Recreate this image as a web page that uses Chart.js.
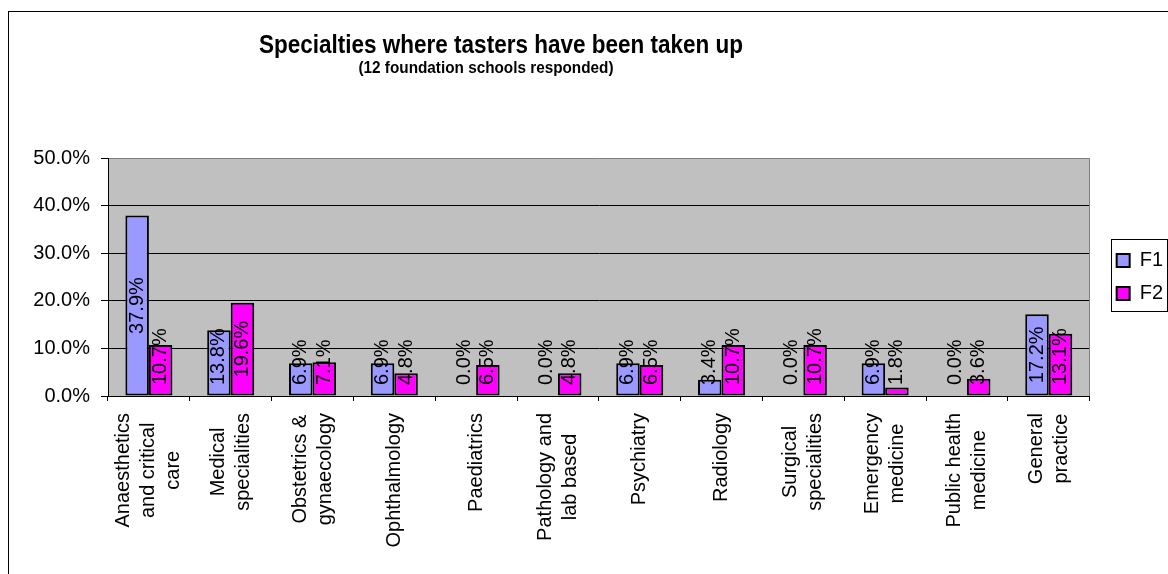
<!DOCTYPE html>
<html>
<head>
<meta charset="utf-8">
<title>Specialties where tasters have been taken up</title>
<script src="https://cdn.jsdelivr.net/npm/chart.js@4.4.0/dist/chart.umd.min.js"></script>
<style>
  html, body { margin: 0; padding: 0; background: #fff; overflow: hidden; }
  #wrap { width: 1168px; height: 574px; overflow: hidden; }
  canvas { display: block; }
</style>
</head>
<body>
<div id="wrap"><canvas id="myChart" width="1180" height="590"></canvas></div>
<script>
// specialties (each label split into its wrapped lines)
const specialties = [
  ["Anaesthetics", "and critical", "care"],
  ["Medical", "specialities"],
  ["Obstetrics &", "gynaecology"],
  ["Ophthalmology"],
  ["Paediatrics"],
  ["Pathology and", "lab based"],
  ["Psychiatry"],
  ["Radiology"],
  ["Surgical", "specialities"],
  ["Emergency", "medicine"],
  ["Public health", "medicine"],
  ["General", "practice"]
];

// percentage of tasters taken up, per foundation year
const f1Values = [37.9, 13.8, 6.9, 6.9, 0.0, 0.0, 6.9, 3.4, 0.0, 6.9, 0.0, 17.2];
const f2Values = [10.7, 19.6, 7.1, 4.8, 6.5, 4.8, 6.5, 10.7, 10.7, 1.8, 3.6, 13.1];

const seriesNames = ["F1", "F2"];
const seriesColors = ["#9999FF", "#FF00FF"];

// value axis: 0% to 50% in steps of 10
const yMin = 0;
const yMax = 50;
const yStep = 10;

const chartTitle = "Specialties where tasters have been taken up";
const chartSubtitle = "(12 foundation schools responded)";

const fontFamily = "'Liberation Sans', Arial, Helvetica, sans-serif";
Chart.defaults.font.family = fontFamily;
Chart.defaults.font.size = 20;
Chart.defaults.color = "#000";

const pct = (v) => v.toFixed(1) + "%";

// white page, outer frame and grey plot background
const background = {
  id: "background",
  beforeDraw(chart) {
    const { ctx, chartArea, width, height } = chart;
    ctx.save();
    ctx.fillStyle = "#fff";
    ctx.fillRect(0, 0, width, height);
    ctx.strokeStyle = "#000";
    ctx.lineWidth = 1;
    ctx.strokeRect(8.5, 11.5, width + 20, height + 20);
    ctx.fillStyle = "#C0C0C0";
    ctx.fillRect(chartArea.left, chartArea.top, chartArea.right - chartArea.left, chartArea.bottom - chartArea.top);
    ctx.restore();
  }
};

// rotated value labels, centred in the bar but kept above the axis
const barLabels = {
  id: "barLabels",
  afterDatasetsDraw(chart) {
    const { ctx, chartArea } = chart;
    const limit = chartArea.bottom - 11;
    ctx.save();
    ctx.font = "20px " + fontFamily;
    ctx.fillStyle = "#000";
    ctx.textAlign = "center";
    ctx.textBaseline = "middle";
    chart.data.datasets.forEach((ds, i) => {
      chart.getDatasetMeta(i).data.forEach((bar, j) => {
        const text = pct(ds.data[j]);
        const w = ctx.measureText(text).width;
        let mid = (bar.y + bar.base) / 2;
        if (mid + w / 2 > limit) mid = limit - w / 2;
        ctx.save();
        ctx.translate(bar.x, mid);
        ctx.rotate(-Math.PI / 2);
        ctx.fillText(text, 0, 0);
        ctx.restore();
      });
    });
    ctx.restore();
  }
};

// category names: vertical, lines centred on the tick, block hanging from the axis
const categoryLabels = {
  id: "categoryLabels",
  afterDraw(chart) {
    const { ctx } = chart;
    const xs = chart.scales.x;
    const top = xs.top + 17;
    const lineH = 25;
    ctx.save();
    ctx.font = "20px " + fontFamily;
    ctx.fillStyle = "#000";
    ctx.textAlign = "center";
    ctx.textBaseline = "middle";
    chart.data.labels.forEach((lines, i) => {
      const x = xs.getPixelForValue(i);
      const widest = Math.max(...lines.map((l) => ctx.measureText(l).width));
      lines.forEach((line, k) => {
        ctx.save();
        ctx.translate(x + (k - (lines.length - 1) / 2) * lineH, top + widest / 2);
        ctx.rotate(-Math.PI / 2);
        ctx.fillText(line, 0, 0);
        ctx.restore();
      });
    });
    ctx.restore();
  }
};

// titles, plot border on the right and the box round the legend
const decorations = {
  id: "decorations",
  afterDraw(chart) {
    const { ctx, chartArea } = chart;
    ctx.save();
    ctx.strokeStyle = "#808080";
    ctx.lineWidth = 1;
    ctx.beginPath();
    const rx = Math.round(chartArea.right) - 0.5;
    ctx.moveTo(rx, chartArea.top);
    ctx.lineTo(rx, chartArea.bottom);
    ctx.stroke();

    const hb = chart.legend.legendHitBoxes;
    if (hb && hb.length) {
      const first = hb[0];
      const last = hb[hb.length - 1];
      const bx = Math.round(first.left) - 5.5;
      const by = Math.round(first.top) - 11.5;
      ctx.strokeStyle = "#000";
      ctx.strokeRect(bx, by, 1167.5 - bx, Math.round(last.top + last.height - first.top) + 19);
    }

    ctx.fillStyle = "#000";
    ctx.textAlign = "center";
    ctx.textBaseline = "alphabetic";
    ctx.save();
    ctx.translate(501, 53);
    ctx.scale(0.9, 1);
    ctx.font = "bold 25px " + fontFamily;
    ctx.fillText(chartTitle, 0, 0);
    ctx.restore();
    ctx.save();
    ctx.translate(486, 73);
    ctx.scale(0.9, 1);
    ctx.font = "bold 17px " + fontFamily;
    ctx.fillText(chartSubtitle, 0, 0);
    ctx.restore();
    ctx.restore();
  }
};

const data = {
  labels: specialties,
  datasets: [f1Values, f2Values].map((values, i) => ({
    label: seriesNames[i],
    data: values,
    backgroundColor: seriesColors[i],
    borderColor: "#000",
    borderWidth: 2,
    borderSkipped: false,
    categoryPercentage: 0.575,
    barPercentage: 1
  }))
};

const config = {
  type: "bar",
  data,
  options: {
    responsive: false,
    animation: false,
    devicePixelRatio: 1,
    layout: { padding: { top: 158, right: 7, bottom: 0, left: 0 } },
    plugins: {
      title: { display: false },
      tooltip: { enabled: false },
      legend: {
        position: "right",
        fullSize: false,
        labels: { boxWidth: 13, boxHeight: 13, padding: 13, color: "#000", font: { size: 20 } }
      }
    },
    scales: {
      x: {
        ticks: { display: false },
        grid: { drawOnChartArea: false, tickLength: 5, tickColor: "#000", offset: true },
        border: { color: "#000" },
        afterFit: (s) => { s.height = 194; }
      },
      y: {
        min: yMin,
        max: yMax,
        ticks: { stepSize: yStep, padding: 11, color: "#000", callback: (v) => pct(v) },
        grid: {
          color: (c) => (c.tick && c.tick.value === yMax ? "#808080" : "#000"),
          tickColor: "#000",
          tickLength: 7
        },
        border: { color: "#000" },
        afterFit: (s) => { s.width = 108; }
      },
      // spacer between the plot and the legend
      gap: {
        position: "right",
        display: true,
        grid: { display: false },
        border: { display: false },
        ticks: { display: false },
        afterFit: (s) => { s.width = 14; }
      }
    }
  },
  plugins: [background, barLabels, categoryLabels, decorations]
};

const ctx = document.getElementById("myChart");
const myChart = new Chart(ctx, config);
</script>
</body>
</html>
